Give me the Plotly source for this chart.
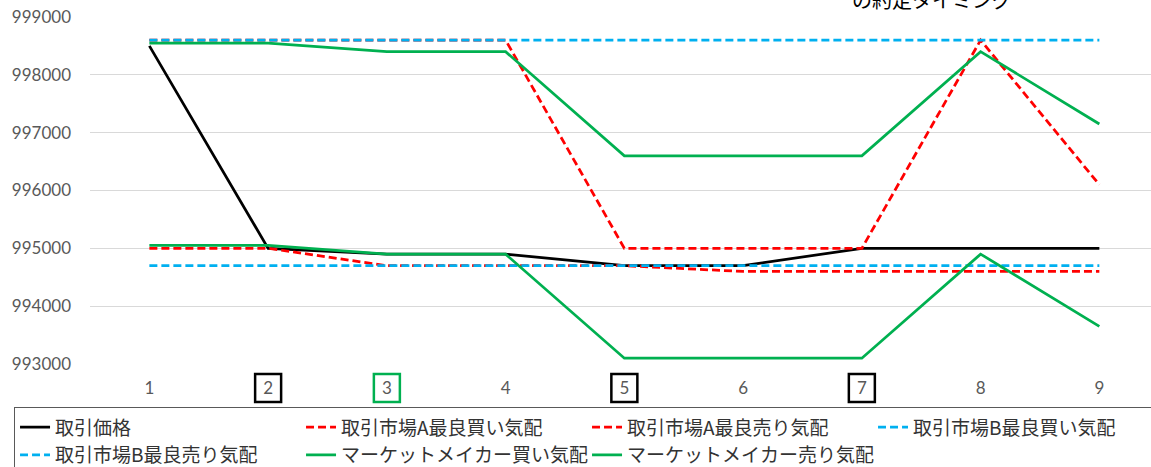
import plotly.graph_objects as go

# Time steps (category axis)
steps = [1, 2, 3, 4, 5, 6, 7, 8, 9]
step_labels = ["1", "2", "3", "4", "5", "6", "7", "8", "9"]

# Price series
trade_price = [998500, 995000, 994900, 994900, 994700, 994700, 995000, 995000, 995000]
mkt_a_bid = [995000, 995000, 994700, 994700, 994700, 994600, 994600, 994600, 994600]
mkt_a_ask = [998600, 998600, 998600, 998600, 995000, 995000, 995000, 998600, 996100]
mkt_b_bid = [994700, 994700, 994700, 994700, 994700, 994700, 994700, 994700, 994700]
mkt_b_ask = [998600, 998600, 998600, 998600, 998600, 998600, 998600, 998600, 998600]
mm_bid = [995050, 995050, 994900, 994900, 993100, 993100, 993100, 994900, 993650]
mm_ask = [998550, 998550, 998400, 998400, 996600, 996600, 996600, 998400, 997150]

# Steps whose tick label is framed, with frame colour
framed_steps = [2, 3, 5, 7]
frame_colors = ["#000000", "#00B050", "#000000", "#000000"]

y_ticks = [993000, 994000, 995000, 996000, 997000, 998000, 999000]

BLACK = "#000000"
RED = "#FF0000"
BLUE = "#00B0F0"
GREEN = "#00B050"
LW = 2.75
DASH = "8px,4px"

series = [
    ("取引価格", trade_price, BLACK, "solid"),
    ("取引市場A最良買い気配", mkt_a_bid, RED, DASH),
    ("取引市場A最良売り気配", mkt_a_ask, RED, DASH),
    ("取引市場B最良買い気配", mkt_b_bid, BLUE, DASH),
    ("取引市場B最良売り気配", mkt_b_ask, BLUE, DASH),
    ("マーケットメイカー買い気配", mm_bid, GREEN, "solid"),
    ("マーケットメイカー売り気配", mm_ask, GREEN, "solid"),
]

fig = go.Figure()
for name, vals, color, dash in series:
    fig.add_trace(go.Scatter(
        x=steps, y=vals, name=name, mode="lines",
        line=dict(color=color, width=LW, dash=dash),
    ))

# Frames around selected tick labels
for s, c in zip(framed_steps, frame_colors):
    fig.add_shape(
        type="rect", xref="x", yref="paper",
        xsizemode="pixel", ysizemode="pixel",
        xanchor=s, yanchor=-0.069,
        x0=-13, x1=13, y0=-14, y1=14,
        line=dict(color=c, width=2.5),
        fillcolor="rgba(0,0,0,0)",
    )

fig.add_annotation(
    text="の約定タイミング", xref="paper", yref="paper",
    x=0.7936, y=1.049, xanchor="center", yanchor="middle",
    showarrow=False,
    font=dict(family="Noto Sans CJK JP", size=20, color="#000000"),
)

fig.update_layout(
    width=1151, height=467,
    margin=dict(l=90, r=0, t=17, b=103, autoexpand=False),
    paper_bgcolor="white", plot_bgcolor="white",
    showlegend=True,
    legend=dict(
        orientation="h", x=-0.0716, xanchor="left", y=-0.125, yanchor="top",
        entrywidth=241, entrywidthmode="pixels", itemwidth=30,
        bordercolor="#595959", borderwidth=1, bgcolor="white",
        font=dict(family="Noto Sans CJK JP", size=19, color="#333333"),
        traceorder="normal",
    ),
    xaxis=dict(
        range=[0.5, 9.435], tickmode="array", tickvals=steps, ticktext=step_labels,
        showgrid=False, zeroline=False, showline=False,
        ticks="", ticklabelstandoff=12,
        tickfont=dict(family="Lato", size=17, color="#595959"),
    ),
    yaxis=dict(
        range=[993000, 999000], tickmode="array", tickvals=y_ticks,
        ticktext=[str(v) for v in y_ticks],
        showgrid=True, gridcolor="#D9D9D9", gridwidth=1,
        zeroline=False, showline=False, ticks="", ticklabelstandoff=18,
        tickfont=dict(family="Lato", size=17, color="#595959"),
    ),
)

fig.write_html("out.html")
